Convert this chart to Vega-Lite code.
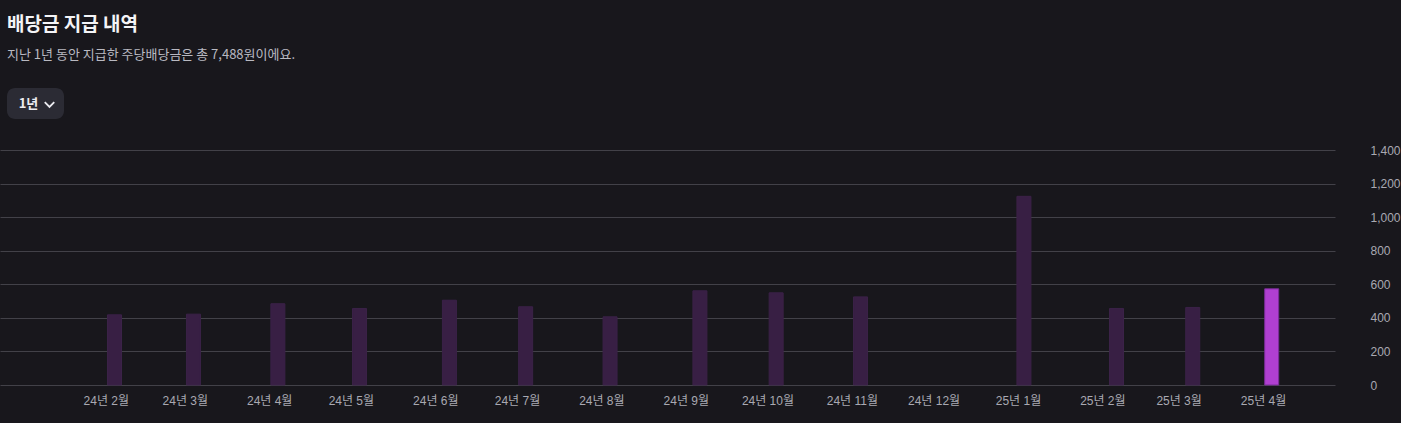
{
  "$schema": "https://vega.github.io/schema/vega-lite/v6.json",
  "background": "#18171c",
  "padding": {"top": 16, "left": 0, "right": 0, "bottom": 20},
  "title": {
    "text": "배당금 지급 내역",
    "subtitle": "지난 1년 동안 지급한 주당배당금은 총 7,488원이에요.",
    "anchor": "start",
    "frame": "group",
    "dx": 7,
    "font": "Noto Sans CJK KR",
    "fontSize": 19,
    "fontWeight": "bold",
    "color": "#f4f4f6",
    "subtitleFont": "Noto Sans CJK KR",
    "subtitleFontSize": 13,
    "subtitleColor": "#b9b9c1",
    "subtitlePadding": 14,
    "offset": 26
  },
  "spacing": 25,
  "vconcat": [
    {
      "spacing": 0,
      "hconcat": [
        {
          "width": 7,
          "height": 31,
          "data": {"values": [{"label": ""}]},
          "mark": {"type": "text"},
          "encoding": {"text": {"field": "label"}}
        },
        {
          "width": 57,
          "height": 31,
          "view": {"fill": "#2b2b34", "cornerRadius": 8, "stroke": null},
          "data": {"values": [{"label": "1년"}]},
          "layer": [
            {
              "mark": {"type": "text", "font": "Noto Sans CJK KR", "fontWeight": "bold", "fontSize": 13, "color": "#ececf1", "dx": -7, "baseline": "middle"},
              "encoding": {"text": {"field": "label"}}
            },
            {
              "mark": {"type": "point", "shape": "M-1,-0.5L0,0.5L1,-0.5", "filled": false, "size": 90, "stroke": "#ececf1", "strokeWidth": 1.8, "xOffset": 14, "yOffset": 1, "opacity": 1},
              "encoding": {}
            }
          ]
        }
      ]
    },
    {
      "width": 1335,
      "height": 235,
      "data": {
        "values": [
          {"date": "2024-02-01", "dividend": 418, "period": "past"},
          {"date": "2024-03-01", "dividend": 422, "period": "past"},
          {"date": "2024-04-01", "dividend": 484, "period": "past"},
          {"date": "2024-05-01", "dividend": 456, "period": "past"},
          {"date": "2024-06-03", "dividend": 505, "period": "past"},
          {"date": "2024-07-01", "dividend": 466, "period": "past"},
          {"date": "2024-08-01", "dividend": 406, "period": "past"},
          {"date": "2024-09-03", "dividend": 561, "period": "past"},
          {"date": "2024-10-01", "dividend": 549, "period": "past"},
          {"date": "2024-11-01", "dividend": 525, "period": "past"},
          {"date": "2024-12-31", "dividend": 1124, "period": "past"},
          {"date": "2025-02-03", "dividend": 456, "period": "past"},
          {"date": "2025-03-03", "dividend": 462, "period": "past"},
          {"date": "2025-04-01", "dividend": 573, "period": "latest"}
        ]
      },
      "mark": {"type": "bar", "size": 14, "xOffset": 8.7, "strokeWidth": 1},
      "encoding": {
        "x": {
          "field": "date",
          "type": "temporal",
          "scale": {
            "type": "utc",
            "padding": 0,
            "nice": false,
            "domain": [
              {"year": 2023, "month": 12, "date": 24, "hours": 3, "minutes": 25, "utc": true},
              {"year": 2025, "month": 4, "date": 27, "hours": 10, "minutes": 35, "utc": true}
            ]
          },
          "axis": {
            "values": [
              {"year": 2024, "month": 2, "date": 1, "utc": true},
              {"year": 2024, "month": 3, "date": 1, "utc": true},
              {"year": 2024, "month": 4, "date": 1, "utc": true},
              {"year": 2024, "month": 5, "date": 1, "utc": true},
              {"year": 2024, "month": 6, "date": 1, "utc": true},
              {"year": 2024, "month": 7, "date": 1, "utc": true},
              {"year": 2024, "month": 8, "date": 1, "utc": true},
              {"year": 2024, "month": 9, "date": 1, "utc": true},
              {"year": 2024, "month": 10, "date": 1, "utc": true},
              {"year": 2024, "month": 11, "date": 1, "utc": true},
              {"year": 2024, "month": 12, "date": 1, "utc": true},
              {"year": 2025, "month": 1, "date": 1, "utc": true},
              {"year": 2025, "month": 2, "date": 1, "utc": true},
              {"year": 2025, "month": 3, "date": 1, "utc": true},
              {"year": 2025, "month": 4, "date": 1, "utc": true}
            ],
            "format": "%y년 %-m월",
            "title": null,
            "grid": false,
            "ticks": false,
            "domain": false,
            "labelPadding": 10,
            "labelFont": "Liberation Sans, Noto Sans CJK KR",
            "labelFontSize": 12,
            "labelColor": "#a9a9b2",
            "labelOverlap": false,
            "labelFlush": false
          }
        },
        "y": {
          "field": "dividend",
          "type": "quantitative",
          "scale": {"domain": [0, 1400], "nice": false, "padding": 0},
          "axis": {
            "orient": "right",
            "values": [0, 200, 400, 600, 800, 1000, 1200, 1400],
            "format": ",.0f",
            "title": null,
            "grid": true,
            "gridColor": "#424148",
            "gridWidth": 1,
            "ticks": false,
            "domain": false,
            "labelPadding": 35,
            "labelFont": "Liberation Sans, Noto Sans CJK KR",
            "labelFontSize": 12,
            "labelColor": "#a9a9b2"
          }
        },
        "color": {
          "field": "period",
          "type": "nominal",
          "scale": {"domain": ["past", "latest"], "range": ["#381f44", "#b03fd1"]},
          "legend": null
        },
        "stroke": {
          "field": "period",
          "type": "nominal",
          "scale": {"domain": ["past", "latest"], "range": ["#3b2248", "#7a2d98"]},
          "legend": null
        }
      }
    }
  ],
  "config": {"view": {"stroke": null}}
}
